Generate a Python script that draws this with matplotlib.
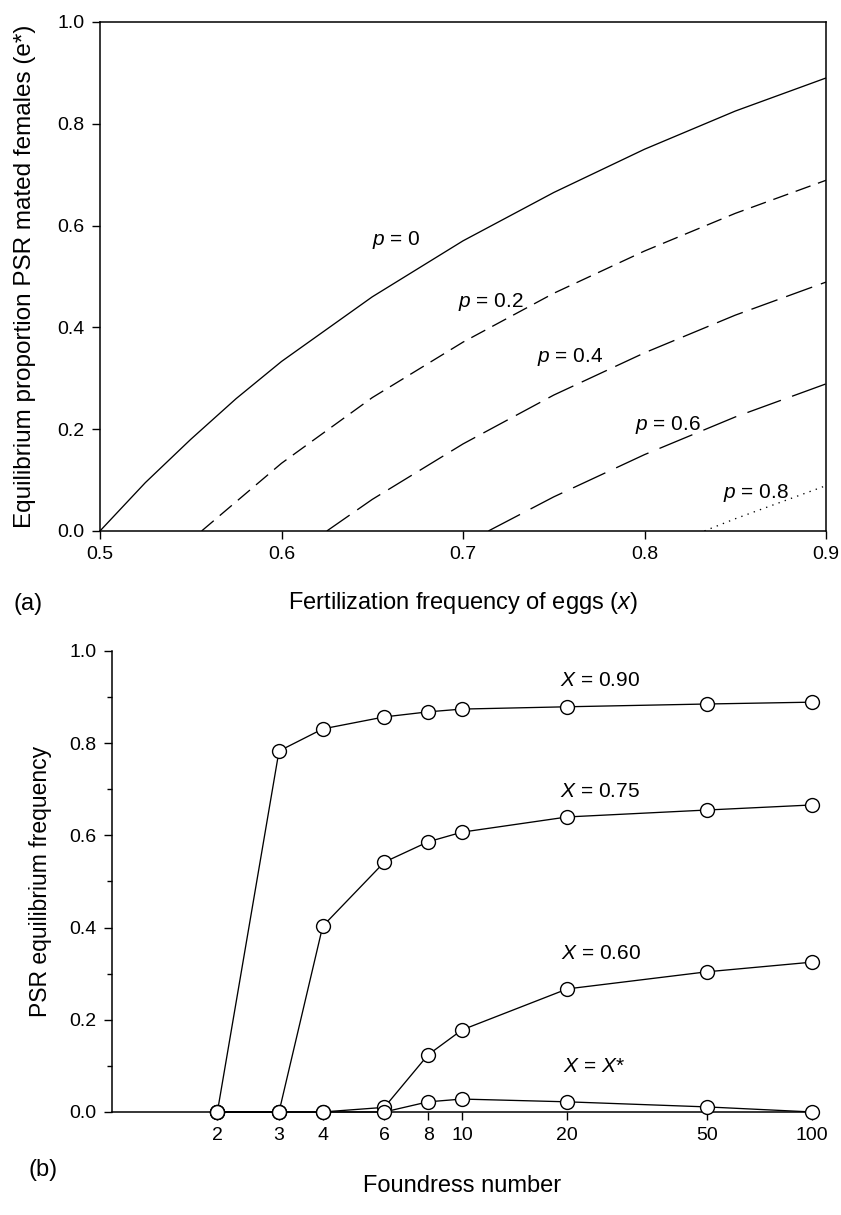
import matplotlib
matplotlib.use("Agg")
import matplotlib.pyplot as plt
from matplotlib.ticker import NullLocator, MultipleLocator

plt.rcParams['font.family'] = ['Liberation Sans', 'DejaVu Sans']
plt.rcParams['mathtext.fontset'] = 'custom'
plt.rcParams['mathtext.rm'] = 'Liberation Sans'
plt.rcParams['mathtext.it'] = 'Liberation Sans:italic'

# panel (a): equilibrium e* vs fertilization frequency x, one curve per p
p_labels = ['0', '0.2', '0.4', '0.6', '0.8']
x_p0 = [0.5, 0.525, 0.55, 0.575, 0.6, 0.65, 0.7, 0.75, 0.8, 0.85, 0.9]
e_p0 = [0.0, 0.095, 0.18, 0.26, 0.333, 0.46, 0.57, 0.665, 0.75, 0.825, 0.89]
x_p2 = [0.556, 0.6, 0.65, 0.7, 0.75, 0.8, 0.85, 0.9]
e_p2 = [0.0, 0.133, 0.262, 0.371, 0.467, 0.55, 0.624, 0.689]
x_p4 = [0.625, 0.65, 0.7, 0.75, 0.8, 0.85, 0.9]
e_p4 = [0.0, 0.062, 0.171, 0.267, 0.35, 0.424, 0.489]
x_p6 = [0.714, 0.75, 0.8, 0.85, 0.9]
e_p6 = [0.0, 0.067, 0.15, 0.224, 0.289]
x_p8 = [0.833, 0.85, 0.9]
e_p8 = [0.0, 0.024, 0.089]

# panel (b): PSR equilibrium frequency vs foundress number
foundress = [2, 3, 4, 6, 8, 10, 20, 50, 100]
psr_090 = [0.0, 0.783, 0.831, 0.857, 0.868, 0.874, 0.879, 0.885, 0.889]
psr_075 = [0.0, 0.0, 0.403, 0.542, 0.586, 0.607, 0.640, 0.655, 0.666]
psr_060 = [0.0, 0.0, 0.0, 0.01, 0.124, 0.178, 0.267, 0.304, 0.325]
psr_star = [0.0, 0.0, 0.0, 0.0, 0.022, 0.028, 0.022, 0.011, 0.0]
b_labels = ['$X$ = 0.90', '$X$ = 0.75', '$X$ = 0.60', '$X$ = $X$*']

fig = plt.figure(figsize=(8.41, 12.15), dpi=100)
ax1 = fig.add_axes([0.1189, 0.5630, 0.8633, 0.4189])
ax2 = fig.add_axes([0.1332, 0.0848, 0.8323, 0.3794])

# ---- top panel
curves = [(x_p0, e_p0, '-'),
          (x_p2, e_p2, (0, (12, 6))),
          (x_p4, e_p4, (0, (21, 7))),
          (x_p6, e_p6, (0, (27, 9))),
          (x_p8, e_p8, (0, (1, 4)))]
for xs, ys, ls in curves:
    ax1.plot(xs, ys, color='black', lw=0.95, linestyle=ls)

lab_pos = [(0.650, 0.562), (0.697, 0.440), (0.741, 0.332), (0.795, 0.199), (0.843, 0.065)]
for lab, (lx, ly) in zip(p_labels, lab_pos):
    ax1.text(lx, ly, '$p$ = ' + lab, fontsize=15, ha='left', va='baseline')

ax1.set_xlim(0.5, 0.9)
ax1.set_ylim(0, 1.0)
ax1.set_xticks([0.5, 0.6, 0.7, 0.8, 0.9])
ax1.set_yticks([0.0, 0.2, 0.4, 0.6, 0.8, 1.0])
ax1.set_yticklabels(['0.0', '0.2', '0.4', '0.6', '0.8', '1.0'])
ax1.tick_params(direction='out', length=6, width=1, labelsize=14, pad=5)
for s in ax1.spines.values():
    s.set_linewidth(1.1)
ax1.set_xlabel('Fertilization frequency of eggs ($x$)', fontsize=17)
ax1.xaxis.set_label_coords(0.5, -0.116)
ax1.set_ylabel('Equilibrium proportion PSR mated females (e*)', fontsize=17.5)
ax1.yaxis.set_label_coords(-0.088, 0.5)

# ---- bottom panel
for ys in [psr_090, psr_075, psr_060, psr_star]:
    ax2.plot(foundress, ys, color='black', lw=0.95, marker='o', markersize=10,
             markerfacecolor='white', markeredgecolor='black', markeredgewidth=1,
             clip_on=False, zorder=3)

b_pos = [(19.0, 0.924), (19.0, 0.683), (19.2, 0.332), (19.4, 0.087)]
for lab, (lx, ly) in zip(b_labels, b_pos):
    ax2.text(lx, ly, lab, fontsize=15, ha='left', va='baseline')

ax2.set_xscale('log')
ax2.set_xlim(1, 100)
ax2.set_ylim(0, 1.0)
ax2.set_xticks(foundress)
ax2.set_xticklabels([str(v) for v in foundress])
ax2.xaxis.set_minor_locator(NullLocator())
ax2.set_yticks([0.0, 0.2, 0.4, 0.6, 0.8, 1.0])
ax2.set_yticklabels(['0.0', '0.2', '0.4', '0.6', '0.8', '1.0'])
ax2.yaxis.set_minor_locator(MultipleLocator(0.1))
ax2.tick_params(direction='out', length=6, width=1, labelsize=14, pad=5)
ax2.tick_params(which='minor', direction='out', length=3.5, width=1)
ax2.spines['top'].set_visible(False)
ax2.spines['right'].set_visible(False)
for s in ['left', 'bottom']:
    ax2.spines[s].set_linewidth(1.1)
ax2.set_xlabel('Foundress number', fontsize=17)
ax2.xaxis.set_label_coords(0.5, -0.137)
ax2.set_ylabel('PSR equilibrium frequency', fontsize=16.5)
ax2.yaxis.set_label_coords(-0.086, 0.5)

fig.text(0.0155, 0.503, '(a)', fontsize=17, ha='left', va='center')
fig.text(0.0333, 0.037, '(b)', fontsize=17, ha='left', va='center')

fig.savefig('out.png', dpi=100)
